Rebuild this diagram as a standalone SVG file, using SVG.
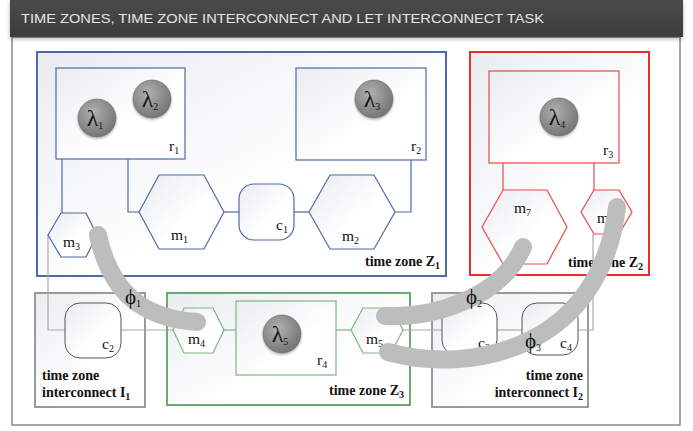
<svg xmlns="http://www.w3.org/2000/svg" width="693" height="431" viewBox="0 0 693 431">
<defs>
<linearGradient id="bg" x1="0" y1="0" x2="1" y2="1"><stop offset="0" stop-color="#eaecf1"/><stop offset="0.6" stop-color="#ffffff"/></linearGradient>
<linearGradient id="hd" x1="0" y1="0" x2="0" y2="1"><stop offset="0" stop-color="#4a4a4a"/><stop offset="1" stop-color="#3c3c3c"/></linearGradient>
<radialGradient id="ball" cx="0.4" cy="0.35" r="0.7"><stop offset="0" stop-color="#b0b0b0"/><stop offset="1" stop-color="#727272"/></radialGradient>
<filter id="sh" x="-30%" y="-30%" width="160%" height="160%"><feDropShadow dx="0" dy="1.5" stdDeviation="1.2" flood-color="#000" flood-opacity="0.3"/></filter>
<filter id="hsh" x="-5%" y="-20%" width="110%" height="160%"><feDropShadow dx="0" dy="2" stdDeviation="2" flood-color="#000" flood-opacity="0.3"/></filter>
</defs>
<style>
.lbl{font-family:"Liberation Serif","DejaVu Serif",serif;font-size:15.5px;fill:#111}
.sub{font-size:10px}
.zl{font-family:"Liberation Serif","DejaVu Serif",serif;font-size:14px;font-weight:bold;fill:#111}
.lam{font-family:"Liberation Serif","DejaVu Serif",serif;font-size:24px;fill:#111;text-anchor:middle}
.ball{fill:url(#ball);stroke:#666;stroke-width:0.6;filter:url(#sh)}
.zb{fill:url(#bg);stroke:#4a6aa8;stroke-width:2}
.b{fill:url(#bg);stroke:#4a6aa8;stroke-width:1.2}
.bl{fill:none;stroke:#4a6aa8;stroke-width:1.2}
.zr{fill:url(#bg);stroke:#e8302a;stroke-width:2}
.r{fill:url(#bg);stroke:#e84a45;stroke-width:1.2}
.rl{fill:none;stroke:#e84a45;stroke-width:1.2}
.zg{fill:url(#bg);stroke:#6aaa70;stroke-width:2}
.g{fill:url(#bg);stroke:#7ab880;stroke-width:1.2}
.gl{fill:none;stroke:#7ab880;stroke-width:1.2}
.zi{fill:url(#bg);stroke:#9a9a9a;stroke-width:2}
.c{fill:url(#bg);stroke:#555;stroke-width:1}
.il{fill:none;stroke:#aaa;stroke-width:1.2}
.task{fill:none;stroke:#bdbdbd;stroke-width:18;stroke-linecap:round}
.phi{font-family:"Liberation Serif","DejaVu Serif",serif;font-size:21px;fill:#111}
</style>
<rect x="0" y="0" width="693" height="431" fill="#fff"/>
<g id="frame">
<rect x="12" y="37" width="668" height="388" fill="#fff" stroke="#888" stroke-width="1.5"/>
<rect x="10" y="0" width="673" height="37" fill="url(#hd)" filter="url(#hsh)"/>
<text x="21" y="23" font-family="'Liberation Sans','DejaVu Sans',sans-serif" font-size="13" fill="#e6e6e6" textLength="523" lengthAdjust="spacingAndGlyphs">TIME ZONES, TIME ZONE INTERCONNECT AND  LET INTERCONNECT TASK</text>
</g>
<g id="zoneZ1"><rect class="zb" x="37" y="52" width="409" height="224"/>
<text class="zl" x="440" y="266" text-anchor="end">time zone Z<tspan class="sub" dy="3">1</tspan></text></g>
<g id="zoneZ2"><rect class="zr" x="470" y="52" width="179" height="223"/>
<text class="zl" x="643" y="267" text-anchor="end">time zone Z<tspan class="sub" dy="3">2</tspan></text></g>
<g id="zoneI1"><rect class="zi" x="35" y="293" width="110" height="114"/>
<text class="zl" x="42" y="380">time zone</text>
<text class="zl" x="42" y="397">interconnect I<tspan class="sub" dy="3">1</tspan></text></g>
<g id="zoneZ3"><rect class="zg" x="167" y="293" width="243" height="112"/>
<text class="zl" x="404" y="395" text-anchor="end">time zone Z<tspan class="sub" dy="3">3</tspan></text></g>
<g id="zoneI2"><rect class="zi" x="432" y="293" width="156" height="114"/>
<text class="zl" x="583" y="380" text-anchor="end">time zone</text>
<text class="zl" x="583" y="397" text-anchor="end">interconnect I<tspan class="sub" dy="3">2</tspan></text></g>
<g id="connectors">
<polyline class="bl" points="62,159 62,213"/>
<polyline class="bl" points="128,159 128,212 139,212"/>
<line class="bl" x1="224" y1="212" x2="239" y2="212"/>
<line class="bl" x1="294" y1="212" x2="309" y2="212"/>
<polyline class="bl" points="395,212 411,212 411,160"/>
<line class="rl" x1="503" y1="163" x2="503" y2="190"/>
<line class="rl" x1="594" y1="163" x2="594" y2="190"/>
<polyline class="il" points="48,235 48,330 65,330"/>
<line class="il" x1="121" y1="330" x2="173" y2="330"/>
<line class="gl" x1="224" y1="330" x2="236" y2="330"/>
<line class="gl" x1="336" y1="330" x2="351" y2="330"/>
<line class="il" x1="403" y1="330" x2="442" y2="330"/>
<line class="il" x1="497" y1="330" x2="522" y2="330"/>
<polyline class="il" points="578,330 593,330 593,234"/>
</g>
<g id="r1"><rect class="b" x="56" y="68" width="129" height="91"/>
<text class="lbl" x="169" y="151">r<tspan class="sub" dy="3">1</tspan></text></g>
<g id="lambda1"><circle class="ball" cx="97" cy="118" r="19"/><text class="lam" x="95" y="126">λ<tspan class="sub" dy="3" font-size="14">1</tspan></text></g>
<g id="lambda2"><circle class="ball" cx="152" cy="99" r="19"/><text class="lam" x="150" y="107">λ<tspan class="sub" dy="3" font-size="14">2</tspan></text></g>
<g id="r2"><rect class="b" x="296" y="68" width="130" height="92"/>
<text class="lbl" x="411" y="151">r<tspan class="sub" dy="3">2</tspan></text></g>
<g id="lambda3"><circle class="ball" cx="374" cy="99" r="19"/><text class="lam" x="372" y="107">λ<tspan class="sub" dy="3" font-size="14">3</tspan></text></g>
<g id="m3"><polygon class="b" points="48,235 61,213 86,213 97,235 86,257 61,257"/>
<text class="lbl" x="63" y="247">m<tspan class="sub" dy="3">3</tspan></text></g>
<g id="m1"><polygon class="b" points="139,212 159,175 204,175 224,212 204,249 159,249"/>
<text class="lbl" x="171" y="240">m<tspan class="sub" dy="3">1</tspan></text></g>
<g id="c1"><rect class="b" x="239" y="184" width="55" height="56" rx="15"/>
<text class="lbl" x="276" y="230">c<tspan class="sub" dy="3">1</tspan></text></g>
<g id="m2"><polygon class="b" points="309,212 330,175 374,175 395,212 374,249 330,249"/>
<text class="lbl" x="342" y="241">m<tspan class="sub" dy="3">2</tspan></text></g>
<g id="r3"><rect class="r" x="489" y="71" width="130" height="92"/>
<text class="lbl" x="603" y="155">r<tspan class="sub" dy="3">3</tspan></text></g>
<g id="lambda4"><circle class="ball" cx="559" cy="117" r="19"/><text class="lam" x="557" y="125">λ<tspan class="sub" dy="3" font-size="14">4</tspan></text></g>
<g id="m7"><polygon class="r" points="482,227 503,190 547,190 567,227 547,264 503,264"/>
<text class="lbl" x="514" y="213">m<tspan class="sub" dy="3">7</tspan></text></g>
<g id="m8"><polygon class="r" points="581,212 594,190 619,190 632,212 619,234 594,234"/>
<text class="lbl" x="597" y="223">m</text></g>
<g id="c2"><rect class="c" x="65" y="303" width="56" height="55" rx="15"/>
<text class="lbl" x="102" y="349">c<tspan class="sub" dy="3">2</tspan></text></g>
<g id="m4"><polygon class="g" points="173,330 184,308 213,308 224,330 213,353 184,353"/>
<text class="lbl" x="188" y="344">m<tspan class="sub" dy="3">4</tspan></text></g>
<g id="r4"><rect class="g" x="236" y="301" width="100" height="74"/>
<text class="lbl" x="317" y="365">r<tspan class="sub" dy="3">4</tspan></text></g>
<g id="lambda5"><circle class="ball" cx="282" cy="334" r="19"/><text class="lam" x="280" y="342">λ<tspan class="sub" dy="3" font-size="14">5</tspan></text></g>
<g id="m5"><polygon class="g" points="351,330 363,308 391,308 403,330 391,353 363,353"/>
<text class="lbl" x="366" y="344">m<tspan class="sub" dy="3">5</tspan></text></g>
<g id="c3"><rect class="c" x="442" y="303" width="55" height="52" rx="15"/>
<text class="lbl" x="478" y="348">c<tspan class="sub" dy="3">3</tspan></text></g>
<g id="c4"><rect class="c" x="522" y="303" width="56" height="52" rx="15"/>
<text class="lbl" x="560" y="348">c<tspan class="sub" dy="3">4</tspan></text></g>
<g id="tasks">
<path class="task" d="M 98 235 C 110 290, 140 318, 197 322"/>
<path class="task" d="M 385 316 C 430 318, 500 300, 523 247"/>
<path class="task" d="M 388 352 C 470 375, 600 350, 617 207"/>
<text class="phi" x="125" y="304">ϕ<tspan class="sub" dy="3" font-size="13">1</tspan></text>
<text class="phi" x="466" y="304">ϕ<tspan class="sub" dy="3" font-size="13">2</tspan></text>
<text class="phi" x="525" y="348">ϕ<tspan class="sub" dy="3" font-size="13">3</tspan></text>
</g>
</svg>
